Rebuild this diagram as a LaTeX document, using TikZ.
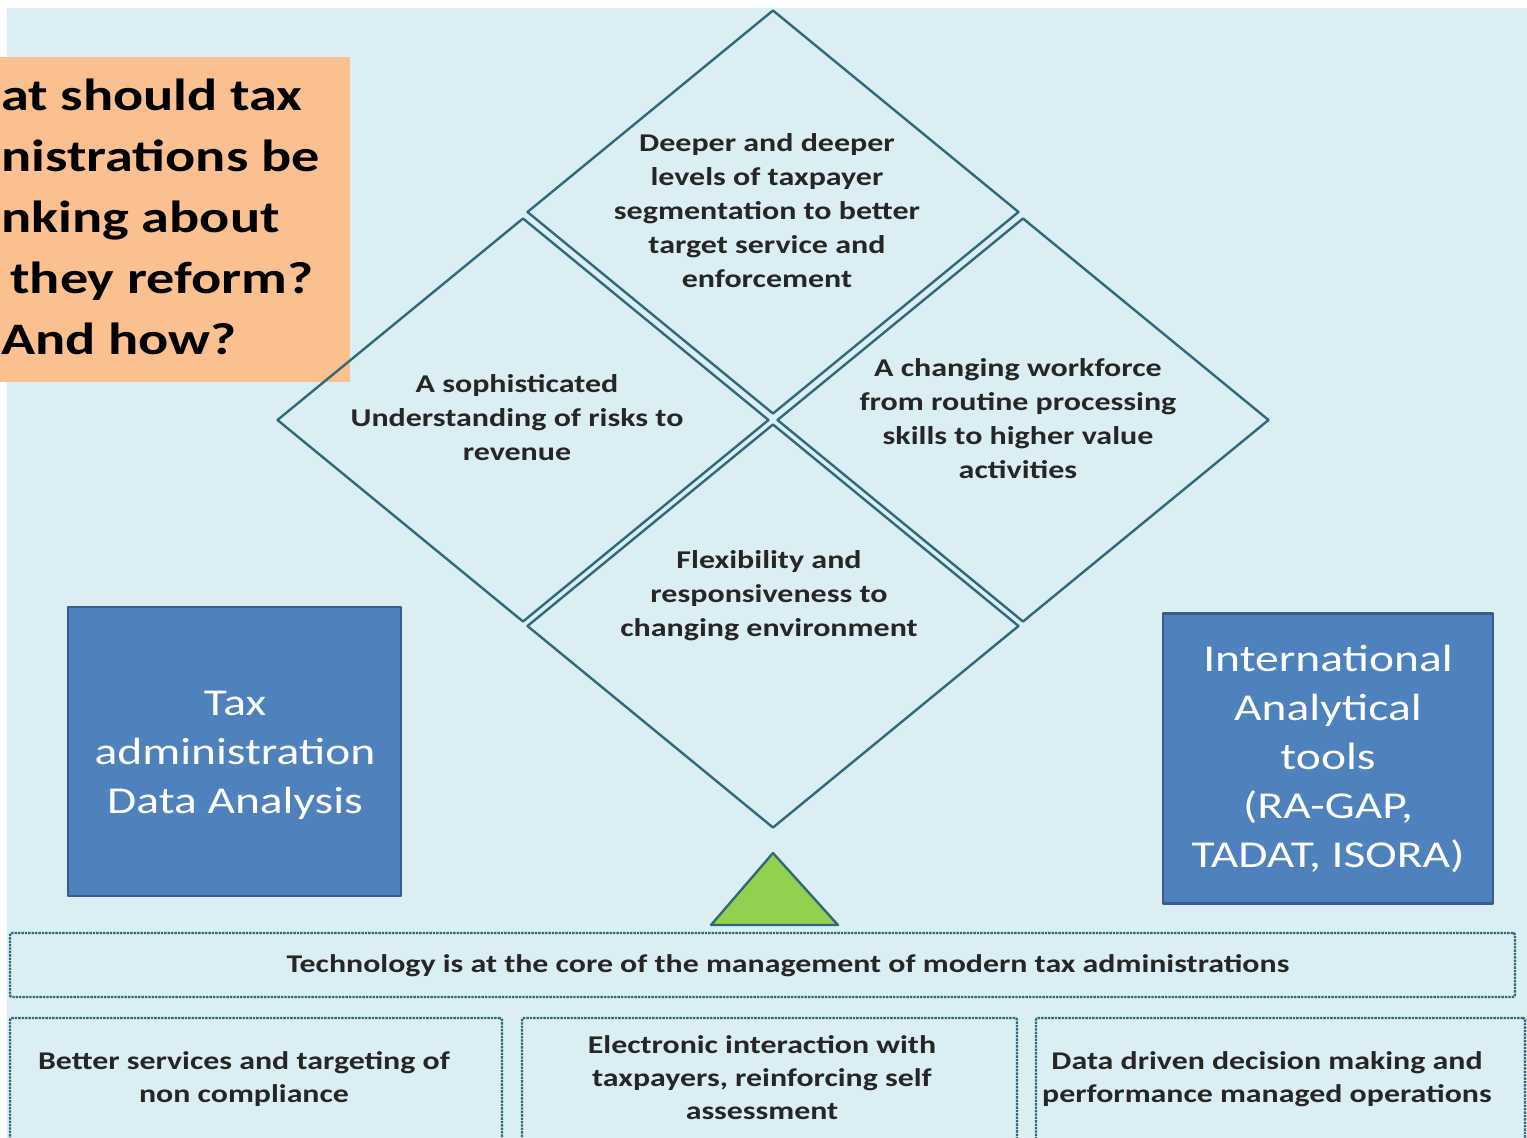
\documentclass[tikz,border=0pt]{standalone}
\usepackage{fontspec}
\setmainfont[FakeStretch=1.25]{Carlito}
\usetikzlibrary{shapes.geometric, positioning}

\definecolor{slidebg}{HTML}{DBEEF4}
\definecolor{edgeteal}{HTML}{31697A}
\definecolor{peach}{HTML}{FAC090}
\definecolor{boxblue}{HTML}{4F81BD}
\definecolor{boxblueedge}{HTML}{385D8A}
\definecolor{leafgreen}{HTML}{92D050}

\begin{document}
\begin{tikzpicture}[
                x = 1pt, y = -1pt, % one unit per pixel, y runs down
                line join = round,
                semithick % line style
            ]

            \tikzstyle{rhomb}=[draw = edgeteal, diamond, line width = 2.4pt,
            inner sep = 0pt, minimum width = 492pt, minimum height = 404pt]
            \tikzstyle{dtext}=[align = center, text = black!85,
            font = \bfseries\fontsize{25.6}{34}\selectfont]
            \tikzstyle{bluebox}=[draw = boxblueedge, fill = boxblue, line width = 2.5pt,
            text = white, align = center, font = \fontsize{38}{49}\selectfont]
            \tikzstyle{techbox}=[draw = edgeteal, densely dotted, line width = 2.4pt,
            rounded corners = 2pt, inner sep = 0pt]
            \tikzstyle{btext}=[align = center, text = black!85,
            font = \bfseries\fontsize{25.5}{33}\selectfont]

            \clip (0,0) rectangle (1527,1138);
            \fill[white] (0,0) rectangle (1527,1138);
            \fill[slidebg] (7,8) rectangle (1527,1138);

            % question box, cut at the slide edge
            \node (qbox) [fill = peach, minimum width = 350pt, minimum height = 325pt,
            inner sep = 0pt] at (175,219.5) {};
            \node (qtext) [anchor = west, align = left, inner sep = 0pt,
            font = \bfseries\fontsize{45}{61}\selectfont]
            at (1,217) {at should tax\\nistrations be\\nking about\\\hspace*{9pt}they
            reform?\\And how?};

            % four diamonds
            \node (up) [rhomb] at (773,212) {};
            \node (lft) [rhomb] at (523,420) {};
            \node (rgt) [rhomb] at (1023,420) {};
            \node (low) [rhomb] at (773,626) {};

            \node (uptext) [dtext] at (767,211) {Deeper and deeper\\levels of
            taxpayer\\segmentation to better\\target service and\\enforcement};
            \node (lfttext) [dtext] at (517,418) {A sophisticated\\Understanding of
            risks to\\revenue};
            \node (rgttext) [dtext] at (1018,419) {A changing workforce\\from routine
            processing\\skills to higher value\\activities};
            \node (lowtext) [dtext] at (769,596) {Flexibility and\\responsiveness
            to\\changing environment};

            % side boxes
            \node (tad) [bluebox, minimum width = 333pt, minimum height = 289pt]
            at (234.5,751.5) {};
            \node (tadtext) [align = center, text = white,
            font = \fontsize{38}{49}\selectfont] at (235,755.5)
            {Tax\\administration\\Data Analysis};
            \node (iat) [bluebox, minimum width = 330pt, minimum height = 290pt]
            at (1328,758.5) {International\\Analytical\\tools\\(RA-GAP,\\TADAT, ISORA)};

            % fulcrum
            \draw[draw = edgeteal, fill = leafgreen, line width = 2.4pt]
            (773,853) -- (838,925) -- (711,925) -- cycle;

            % base and pillars
            \node (tech) [techbox, minimum width = 1505pt, minimum height = 64pt]
            at (762.5,965) {};
            \node (techtext) [btext] at (788,966) {Technology is at the core of the
            management of modern tax administrations};

            \node (p1) [techbox, minimum width = 492pt, minimum height = 124pt]
            at (256,1080) {};
            \node (p2) [techbox, minimum width = 495pt, minimum height = 124pt]
            at (769.5,1080) {};
            \node (p3) [techbox, minimum width = 489pt, minimum height = 124pt]
            at (1280.5,1080) {};

            \node (p1text) [btext] at (244,1079) {Better services and targeting
            of\\non compliance};
            \node (p2text) [btext] at (762,1078) {Electronic interaction
            with\\taxpayers, reinforcing self\\assessment};
            \node (p3text) [btext] at (1267,1079) {Data driven decision making
            and\\performance managed operations};

        \end{tikzpicture}
\end{document}
